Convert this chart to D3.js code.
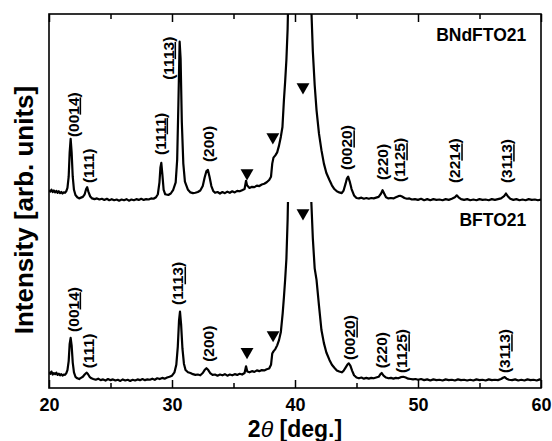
<!DOCTYPE html>
<html>
<head>
<meta charset="utf-8">
<script src="https://cdn.jsdelivr.net/npm/d3@7/dist/d3.min.js"></script>
<style>
body { margin: 0; background: #fff; }
text { font-family: "Liberation Sans", Arial, sans-serif; font-weight: bold; fill: #000; }
</style>
</head>
<body>
<svg width="552" height="441"></svg>
<script>
// 2theta (deg) , intensity (arb.)
const bfto21 = [
  [20.0,42],[20.1,38],[20.2,44],[20.3,36],[20.4,40],[20.5,37],[20.6,41],[20.7,35],[20.8,38],[20.9,34],
  [21.0,37],[21.1,33],[21.2,36],[21.3,35],[21.4,39],[21.5,48],[21.6,72],[21.68,118],[21.76,134],[21.84,114],
  [21.93,68],[22.03,42],[22.15,30],[22.3,26],[22.45,24],[22.6,27],[22.75,30],[22.9,36],[23.05,41],[23.15,38],
  [23.3,30],[23.45,26],[23.6,24],[23.8,22],[24.0,25],[24.2,21],[24.4,23],[24.6,20],[24.8,24],[25.0,21],
  [25.2,23],[25.4,20],[25.6,22],[25.8,19],[26.0,23],[26.2,20],[26.4,22],[26.6,19],[26.8,22],[27.0,20],
  [27.2,23],[27.4,21],[27.6,24],[27.8,21],[28.0,23],[28.2,22],[28.4,25],[28.6,22],[28.8,26],[29.0,24],
  [29.2,27],[29.4,25],[29.6,28],[29.8,30],[30.0,33],[30.2,42],[30.35,62],[30.47,110],[30.57,180],[30.65,204],
  [30.74,170],[30.85,105],[30.97,65],[31.1,48],[31.3,42],[31.5,40],[31.7,37],[31.9,35],[32.1,36],[32.3,34],
  [32.5,40],[32.65,48],[32.8,53],[32.95,48],[33.1,40],[33.3,35],[33.5,36],[33.7,33],[33.9,36],[34.1,34],
  [34.3,37],[34.5,33],[34.7,36],[34.9,34],[35.1,37],[35.3,35],[35.5,38],[35.7,36],[35.9,40],[36.02,58],
  [36.12,44],[36.3,42],[36.5,45],[36.7,43],[36.9,47],[37.1,45],[37.3,48],[37.5,47],[37.7,50],[37.9,52],
  [38.05,62],[38.15,92],[38.25,98],[38.4,104],[38.55,114],[38.7,128],[38.85,150],[39.0,200],[39.1,243],[39.2,290],
  [39.3,345],[39.4,450],[39.5,620],[39.7,1100],[40.0,2000],[40.4,2600],[40.8,2000],[41.1,1100],[41.3,520],[41.45,400],
  [41.6,320],[41.75,289],[41.95,220],[42.15,155],[42.35,120],[42.55,95],[42.8,75],[43.0,62],[43.2,54],[43.4,47],
  [43.6,44],[43.8,42],[43.95,46],[44.1,54],[44.25,62],[44.37,66],[44.5,60],[44.65,46],[44.8,34],[45.0,28],
  [45.2,26],[45.4,28],[45.6,25],[45.8,27],[46.0,25],[46.2,27],[46.4,26],[46.6,28],[46.8,30],[46.95,37],
  [47.05,40],[47.2,33],[47.4,28],[47.6,26],[47.8,27],[48.0,25],[48.2,27],[48.4,26],[48.6,29],[48.8,30],
  [49.0,28],[49.2,25],[49.4,24],[49.6,23],[49.8,24],[50.0,22],[50.25,24],[50.5,21],[50.75,23],[51.0,20],
  [51.25,23],[51.5,21],[51.75,22],[52.0,20],[52.25,23],[52.5,21],[52.75,22],[53.0,20],[53.25,23],[53.5,21],
  [53.75,22],[54.0,20],[54.25,22],[54.5,20],[54.75,23],[55.0,21],[55.25,22],[55.5,20],[55.75,23],[56.0,21],
  [56.25,22],[56.5,21],[56.75,24],[56.95,28],[57.05,29],[57.2,25],[57.4,22],[57.65,21],[57.9,23],[58.15,20],
  [58.4,22],[58.65,20],[58.9,23],[59.15,21],[59.4,22],[59.65,20],[59.9,23],[60.0,21]
];

const bndfto21 = [
  [20.0,49],[20.1,45],[20.2,50],[20.3,44],[20.4,48],[20.5,43],[20.6,47],[20.7,42],[20.8,46],[20.9,41],
  [21.0,44],[21.1,40],[21.2,43],[21.3,42],[21.4,46],[21.5,55],[21.6,85],[21.68,150],[21.76,186],[21.84,150],
  [21.93,85],[22.03,50],[22.15,36],[22.3,30],[22.45,27],[22.6,29],[22.75,31],[22.9,38],[23.02,52],[23.1,57],
  [23.2,45],[23.35,32],[23.5,27],[23.7,25],[23.9,27],[24.1,24],[24.3,26],[24.5,23],[24.7,26],[24.9,22],
  [25.1,25],[25.3,22],[25.5,24],[25.7,21],[25.9,24],[26.1,22],[26.3,25],[26.5,21],[26.7,24],[26.9,22],
  [27.1,25],[27.3,23],[27.5,26],[27.7,23],[27.9,25],[28.1,24],[28.3,27],[28.5,26],[28.7,30],[28.85,38],
  [28.98,70],[29.06,110],[29.13,122],[29.22,90],[29.32,50],[29.45,38],[29.7,36],[29.9,40],[30.1,50],[30.3,70],
  [30.42,130],[30.52,280],[30.62,446],[30.7,400],[30.8,230],[30.92,120],[31.05,72],[31.3,50],[31.5,43],[31.7,41],
  [31.9,42],[32.1,44],[32.3,48],[32.5,60],[32.65,82],[32.8,100],[32.92,103],[33.05,85],[33.2,60],[33.35,47],
  [33.5,42],[33.7,44],[33.9,40],[34.1,44],[34.3,41],[34.5,45],[34.7,42],[34.9,46],[35.1,43],[35.3,47],
  [35.5,46],[35.7,49],[35.9,52],[36.02,74],[36.1,62],[36.3,55],[36.5,58],[36.7,57],[36.9,61],[37.1,60],
  [37.3,64],[37.5,66],[37.7,70],[37.9,76],[38.05,85],[38.15,120],[38.25,136],[38.4,142],[38.55,150],[38.7,168],
  [38.85,192],[38.98,218],[39.1,290],[39.2,340],[39.3,397],[39.4,480],[39.5,640],[39.7,1100],[40.0,2000],[40.4,2600],
  [40.8,2000],[41.1,1100],[41.3,560],[41.45,420],[41.6,330],[41.75,263],[41.95,200],[42.15,156],[42.35,120],[42.55,95],
  [42.8,76],[43.0,62],[43.2,52],[43.4,46],[43.6,43],[43.8,41],[43.95,48],[44.1,65],[44.22,80],[44.32,85],
  [44.45,72],[44.6,52],[44.8,35],[45.0,28],[45.2,27],[45.4,29],[45.6,26],[45.8,28],[46.0,26],[46.2,28],
  [46.4,27],[46.6,29],[46.8,31],[47.0,40],[47.12,49],[47.25,40],[47.4,30],[47.6,27],[47.8,28],[48.0,27],
  [48.2,30],[48.4,33],[48.55,34],[48.7,32],[48.9,28],[49.1,26],[49.3,27],[49.5,24],[49.75,25],[50.0,23],
  [50.25,26],[50.5,22],[50.75,25],[51.0,22],[51.25,25],[51.5,23],[51.75,24],[52.0,22],[52.25,25],[52.5,23],
  [52.75,26],[53.0,30],[53.15,35],[53.3,30],[53.5,25],[53.75,23],[54.0,25],[54.25,22],[54.5,24],[54.75,22],
  [55.0,25],[55.25,23],[55.5,24],[55.75,22],[56.0,25],[56.25,23],[56.5,25],[56.75,27],[57.0,33],[57.15,40],
  [57.3,33],[57.5,26],[57.75,23],[58.0,25],[58.25,22],[58.5,24],[58.75,22],[59.0,25],[59.25,23],[59.5,24],
  [59.75,22],[60.0,24]
];

// vertical shift of the upper pattern and where the lower one is cut off
const upperOffset = 480;
const lowerCut = 497;

// peak labels: 2theta, intensity at the label foot, text, underlined part
const upperLabels = [
  [21.95,191,"(00","14"],[23.17,68,"(111)",""],[29.02,143,"(11","11"],[29.67,344,"(11","13"],
  [32.92,124,"(200)",""],[44.21,103,"(00","20"],[47.13,76,"(220)",""],[48.51,71,"(11","25"],
  [52.98,68,"(22","14"],[57.2,68,"(31","13"]
];
const lowerLabels = [
  [21.95,150,"(00","14"],[23.17,53,"(111)",""],[30.48,222,"(11","13"],[32.92,70,"(200)",""],
  [44.45,75,"(00","20"],[47.05,53,"(220)",""],[48.68,40,"(11","25"],[57.04,40,"(31","13"]
];

// impurity / substrate markers (2theta, intensity)
const upperMarks = [[36.1,95],[38.2,191],[40.65,325]];
const lowerMarks = [[36.1,97],[38.22,142],[40.65,468]];

const xMajor = [20, 30, 40, 50, 60];
const xMinor = [25, 35, 45, 55];

const W = 552, H = 441;
const m = {left: 49, right: 11, top: 14, bottom: 53};

const svg = d3.select("svg");

const x = d3.scaleLinear().domain([20, 60]).range([m.left, W - m.right]);
const y = d3.scaleLinear().domain([0, 1000]).range([H - m.bottom, m.top]);

// clip areas
const defs = svg.append("defs");
defs.append("clipPath").attr("id", "clipUp")
  .append("rect")
  .attr("x", m.left).attr("y", m.top)
  .attr("width", W - m.left - m.right).attr("height", H - m.top - m.bottom);
defs.append("clipPath").attr("id", "clipLow")
  .append("rect")
  .attr("x", m.left).attr("y", y(lowerCut))
  .attr("width", W - m.left - m.right).attr("height", y(0) - y(lowerCut));

const line = function(off) {
  return d3.line()
    .x(function(d) { return x(d[0]); })
    .y(function(d) { return y(d[1] + off); });
};

svg.append("path").datum(bfto21)
  .attr("clip-path", "url(#clipLow)")
  .attr("fill", "none").attr("stroke", "#000").attr("stroke-width", 2.2)
  .attr("stroke-linejoin", "round")
  .attr("d", line(0));

svg.append("path").datum(bndfto21)
  .attr("clip-path", "url(#clipUp)")
  .attr("fill", "none").attr("stroke", "#000").attr("stroke-width", 2.2)
  .attr("stroke-linejoin", "round")
  .attr("d", line(upperOffset));

// axes: ticks point inward, top and bottom
const gx = svg.append("g").attr("transform", "translate(0," + y(0) + ")");
gx.call(d3.axisBottom(x).tickValues(xMajor).tickSize(-8).tickPadding(10).tickFormat(d3.format("d")));
svg.append("g").attr("transform", "translate(0," + y(0) + ")")
  .call(d3.axisBottom(x).tickValues(xMinor).tickSize(-5).tickFormat(""));
svg.append("g").attr("transform", "translate(0," + y(1000) + ")")
  .call(d3.axisTop(x).tickValues(xMajor).tickSize(-8).tickFormat(""));
svg.append("g").attr("transform", "translate(0," + y(1000) + ")")
  .call(d3.axisTop(x).tickValues(xMinor).tickSize(-5).tickFormat(""));
svg.selectAll(".domain").remove();
svg.selectAll(".tick line").attr("stroke", "#000").attr("stroke-width", 1.5);
gx.selectAll(".tick text")
  .style("font-size", "18px").style("font-weight", "bold")
  .style("font-family", "'Liberation Sans', Arial, sans-serif");

svg.append("rect")
  .attr("x", m.left).attr("y", m.top)
  .attr("width", W - m.left - m.right).attr("height", H - m.top - m.bottom)
  .attr("fill", "none").attr("stroke", "#000").attr("stroke-width", 1.6);

// peak labels, rotated
function drawLabels(list, off) {
  const t = svg.append("g").selectAll("text").data(list).enter().append("text")
    .attr("transform", function(d) { return "translate(" + x(d[0]) + "," + y(d[1] + off) + ") rotate(-90)"; })
    .attr("dy", "0.36em")
    .style("font-size", "15.5px");
  t.append("tspan").text(function(d) { return d[2]; });
  t.filter(function(d) { return d[3] !== ""; }).append("tspan")
    .style("text-decoration", "underline").text(function(d) { return d[3]; });
  t.filter(function(d) { return d[3] !== ""; }).append("tspan").text(")");
}
drawLabels(upperLabels, upperOffset);
drawLabels(lowerLabels, 0);

// triangle markers
const tri = d3.symbol().type(d3.symbolTriangle).size(72);
function drawMarks(list, off) {
  svg.append("g").selectAll("path").data(list).enter().append("path")
    .attr("d", tri)
    .attr("transform", function(d) { return "translate(" + x(d[0]) + "," + y(d[1] + off) + ") rotate(180)"; })
    .attr("fill", "#000");
}
drawMarks(upperMarks, upperOffset);
drawMarks(lowerMarks, 0);

// sample names
svg.append("text").attr("x", x(58.8)).attr("y", 41).attr("text-anchor", "end")
  .style("font-size", "17.5px").text("BNdFTO21");
svg.append("text").attr("x", x(58.8)).attr("y", 226).attr("text-anchor", "end")
  .style("font-size", "17.5px").text("BFTO21");

// axis titles
const xt = svg.append("text").attr("x", (m.left + W - m.right) / 2).attr("y", 437)
  .attr("text-anchor", "middle").style("font-size", "23px");
xt.append("tspan").text("2");
xt.append("tspan").style("font-style", "italic").style("font-weight", "normal").text("\u03b8");
xt.append("tspan").text(" [deg.]");

svg.append("text")
  .attr("transform", "translate(33,210) rotate(-90)")
  .attr("text-anchor", "middle").style("font-size", "26px")
  .text("Intensity [arb. units]");
</script>
</body>
</html>
